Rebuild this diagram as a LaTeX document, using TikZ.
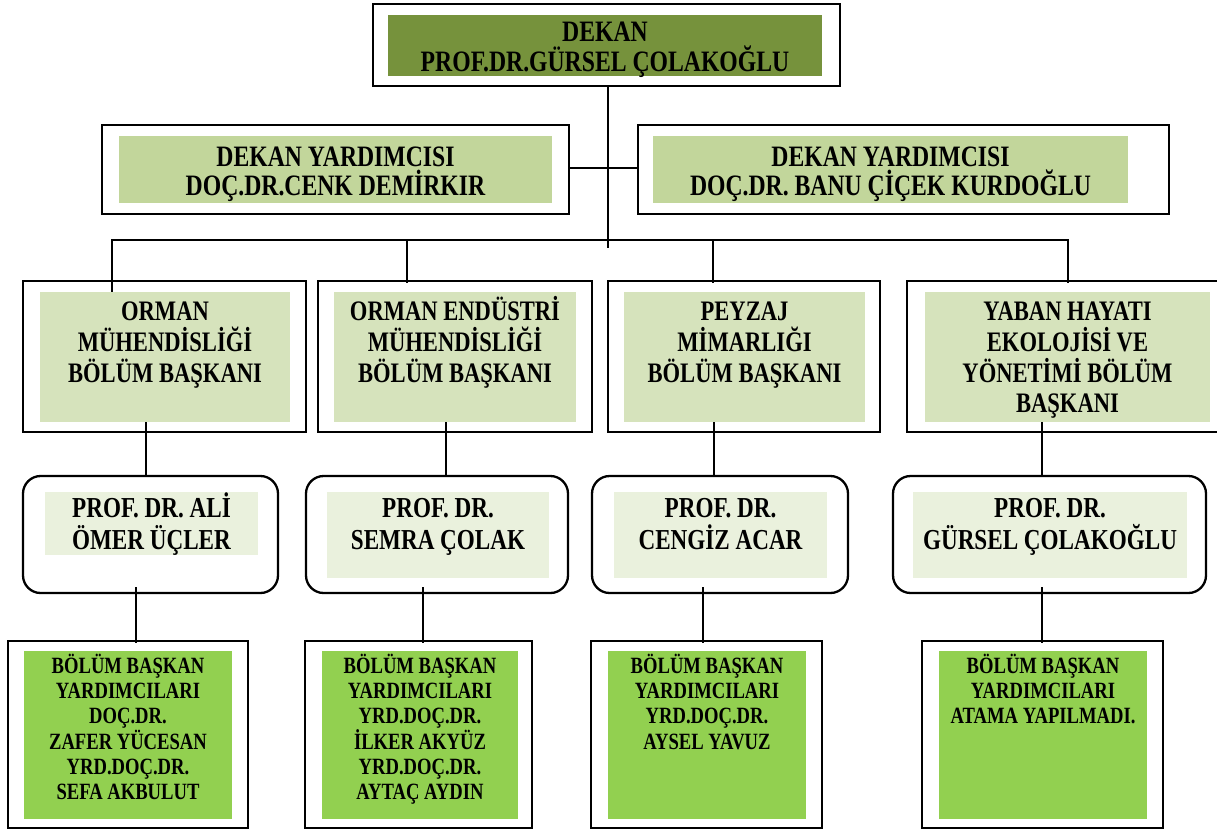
\documentclass[tikz,border=0pt]{standalone}
\usepackage{fontspec}
\setmainfont{Liberation Serif}[FakeStretch=0.8]
\usetikzlibrary{positioning,fit}

\definecolor{dekangreen}{HTML}{76923C}
\definecolor{yardgreen}{HTML}{C2D69B}
\definecolor{bolumgreen}{HTML}{D6E3BC}
\definecolor{baskangreen}{HTML}{EAF1DD}
\definecolor{limegreen}{HTML}{92D050}
\newcommand{\tstrut}{\rule{0pt}{0.9em}}

\tikzset{
  outerbox/.style={draw, line width=1.3pt, inner sep=0pt},
  roundbox/.style={outerbox, rounded corners=10pt},
  fillbox/.style={fill=#1, inner sep=0pt},
  toptext/.style={align=center, inner sep=0pt, font=\bfseries\fontsize{16.8}{17}\selectfont},
  deptext/.style={align=center, inner sep=0pt, font=\bfseries\fontsize{16.8}{16.5}\selectfont},
  bolumtext/.style={align=center, inner sep=0pt, font=\bfseries\fontsize{16}{17.4}\selectfont},
  baskantext/.style={align=center, inner sep=0pt, font=\bfseries\fontsize{16.4}{18}\selectfont},
  yardtext/.style={align=center, inner sep=0pt, font=\bfseries\fontsize{13.2}{14.2}\selectfont},
  link/.style={line width=1.1pt}
}

\begin{document}
\begin{tikzpicture}[x=0.567pt,y=-0.567pt]
 \useasboundingbox (0,0) rectangle (1217,829);
 \clip (0,0) rectangle (1217,829);

 % dekan
 \node[outerbox, fit={(373,4) (840,86)}] (dekan) {};
 \node[fillbox=dekangreen, fit={(388,15) (822,76)}] (dekanin) {};
 \node[toptext, below=-0.3pt of dekanin.north] (dekantxt) {\tstrut DEKAN\\PROF.DR.GÜRSEL ÇOLAKOĞLU};

 % dekan yardimcilari
 \node[outerbox, fit={(102,125) (569,214)}] (yardL) {};
 \node[fillbox=yardgreen, fit={(119,136) (552,203)}] (yardLin) {};
 \node[deptext, below=2pt of yardLin.north] (yardLtxt) {\tstrut DEKAN YARDIMCISI\\DOÇ.DR.CENK DEMİRKIR};
 \node[outerbox, fit={(638,125) (1169,214)}] (yardR) {};
 \node[fillbox=yardgreen, fit={(653,136) (1128,203)}] (yardRin) {};
 \node[deptext, below=2pt of yardRin.north] (yardRtxt) {\tstrut DEKAN YARDIMCISI\\DOÇ.DR. BANU ÇİÇEK KURDOĞLU};

 % bolum baskanligi
 \node[outerbox, fit={(23,281) (306,432)}] (o2a) {};
 \node[fillbox=bolumgreen, fit={(40,292) (290,422)}] (in2a) {};
 \node[bolumtext, below=2pt of in2a.north] (t2a) {\tstrut ORMAN\\MÜHENDİSLİĞİ\\BÖLÜM BAŞKANI};
 \node[outerbox, fit={(318,281) (592,432)}] (o2b) {};
 \node[fillbox=bolumgreen, fit={(334,292) (576,422)}] (in2b) {};
 \node[bolumtext, below=2pt of in2b.north] (t2b) {\tstrut ORMAN ENDÜSTRİ\\MÜHENDİSLİĞİ\\BÖLÜM BAŞKANI};
 \node[outerbox, fit={(608,281) (880,432)}] (o2c) {};
 \node[fillbox=bolumgreen, fit={(624,292) (865,422)}] (in2c) {};
 \node[bolumtext, below=2pt of in2c.north] (t2c) {\tstrut PEYZAJ\\MİMARLIĞI\\BÖLÜM BAŞKANI};
 \node[outerbox, fit={(907,281) (1225,432)}] (o2d) {};
 \node[fillbox=bolumgreen, fit={(925,292) (1210,422)}] (in2d) {};
 \node[bolumtext, below=2pt of in2d.north] (t2d) {\tstrut YABAN HAYATI\\EKOLOJİSİ VE\\YÖNETİMİ BÖLÜM\\BAŞKANI};

 % bolum baskanlari
 \node[roundbox, fit={(23,476) (278,593)}] (o3a) {};
 \node[fillbox=baskangreen, fit={(45,492) (258,555)}] (in3a) {};
 \node[baskantext, below=-0.1pt of in3a.north] (t3a) {\tstrut PROF. DR. ALİ\\ÖMER ÜÇLER};
 \node[roundbox, fit={(306,476) (568,593)}] (o3b) {};
 \node[fillbox=baskangreen, fit={(327,492) (549,578)}] (in3b) {};
 \node[baskantext, below=-0.1pt of in3b.north] (t3b) {\tstrut PROF. DR.\\SEMRA ÇOLAK};
 \node[roundbox, fit={(592,476) (848,593)}] (o3c) {};
 \node[fillbox=baskangreen, fit={(614,492) (827,578)}] (in3c) {};
 \node[baskantext, below=-0.1pt of in3c.north] (t3c) {\tstrut PROF. DR.\\CENGİZ ACAR};
 \node[roundbox, fit={(893,476) (1206,593)}] (o3d) {};
 \node[fillbox=baskangreen, fit={(913,492) (1187,578)}] (in3d) {};
 \node[baskantext, below=-0.1pt of in3d.north] (t3d) {\tstrut PROF. DR.\\GÜRSEL ÇOLAKOĞLU};

 % bolum baskan yardimcilari
 \node[outerbox, fit={(8,641) (248,828)}] (o4a) {};
 \node[fillbox=limegreen, fit={(24,651) (232,819)}] (in4a) {};
 \node[yardtext, below=1.1pt of in4a.north] (t4a) {\tstrut BÖLÜM BAŞKAN\\YARDIMCILARI\\DOÇ.DR.\\ZAFER YÜCESAN\\YRD.DOÇ.DR.\\SEFA AKBULUT};
 \node[outerbox, fit={(305,641) (532,828)}] (o4b) {};
 \node[fillbox=limegreen, fit={(322,651) (518,819)}] (in4b) {};
 \node[yardtext, below=1.1pt of in4b.north] (t4b) {\tstrut BÖLÜM BAŞKAN\\YARDIMCILARI\\YRD.DOÇ.DR.\\İLKER AKYÜZ\\YRD.DOÇ.DR.\\AYTAÇ AYDIN};
 \node[outerbox, fit={(591,641) (822,828)}] (o4c) {};
 \node[fillbox=limegreen, fit={(608,651) (806,819)}] (in4c) {};
 \node[yardtext, below=1.1pt of in4c.north] (t4c) {\tstrut BÖLÜM BAŞKAN\\YARDIMCILARI\\YRD.DOÇ.DR.\\AYSEL YAVUZ};
 \node[outerbox, fit={(922,641) (1163,828)}] (o4d) {};
 \node[fillbox=limegreen, fit={(939,651) (1147,819)}] (in4d) {};
 \node[yardtext, below=1.1pt of in4d.north] (t4d) {\tstrut BÖLÜM BAŞKAN\\YARDIMCILARI\\ATAMA YAPILMADI.};

 % connectors
 \coordinate (bus) at (608,248);
 \coordinate (d2a) at (112,240);
 \coordinate (d2b) at (407,240);
 \coordinate (d2c) at (713,240);
 \coordinate (d2d) at (1068,240);
 \draw[link] (dekan.south -| bus) -- (bus);
 \draw[link] ([yshift=1pt]yardL.east) -- ([yshift=1pt]yardR.west);
 \draw[link] (in2a.north -| d2a) -- (d2a) -- (d2d) -- ([yshift=-2pt]o2d.north -| d2d);
 \draw[link] (d2b) -- ([yshift=-2pt]o2b.north -| d2b);
 \draw[link] (d2c) -- ([yshift=-2pt]o2c.north -| d2c);

 \coordinate (k1) at (146,0);
 \coordinate (k2) at (446,0);
 \coordinate (k3) at (714,0);
 \coordinate (k4) at (1042,0);
 \draw[link] (in2a.south -| k1) -- (o3a.north -| k1);
 \draw[link] (in2b.south -| k2) -- (o3b.north -| k2);
 \draw[link] (in2c.south -| k3) -- (o3c.north -| k3);
 \draw[link] (in2d.south -| k4) -- (o3d.north -| k4);

 \coordinate (m1) at (136,0);
 \coordinate (m2) at (423,0);
 \coordinate (m3) at (703,0);
 \coordinate (m4) at (1042,0);
 \draw[link] ([yshift=4pt]o3a.south -| m1) -- ([yshift=-2pt]o4a.north -| m1);
 \draw[link] ([yshift=4pt]o3b.south -| m2) -- ([yshift=-2pt]o4b.north -| m2);
 \draw[link] ([yshift=4pt]o3c.south -| m3) -- ([yshift=-2pt]o4c.north -| m3);
 \draw[link] ([yshift=4pt]o3d.south -| m4) -- ([yshift=-2pt]o4d.north -| m4);
\end{tikzpicture}
\end{document}
